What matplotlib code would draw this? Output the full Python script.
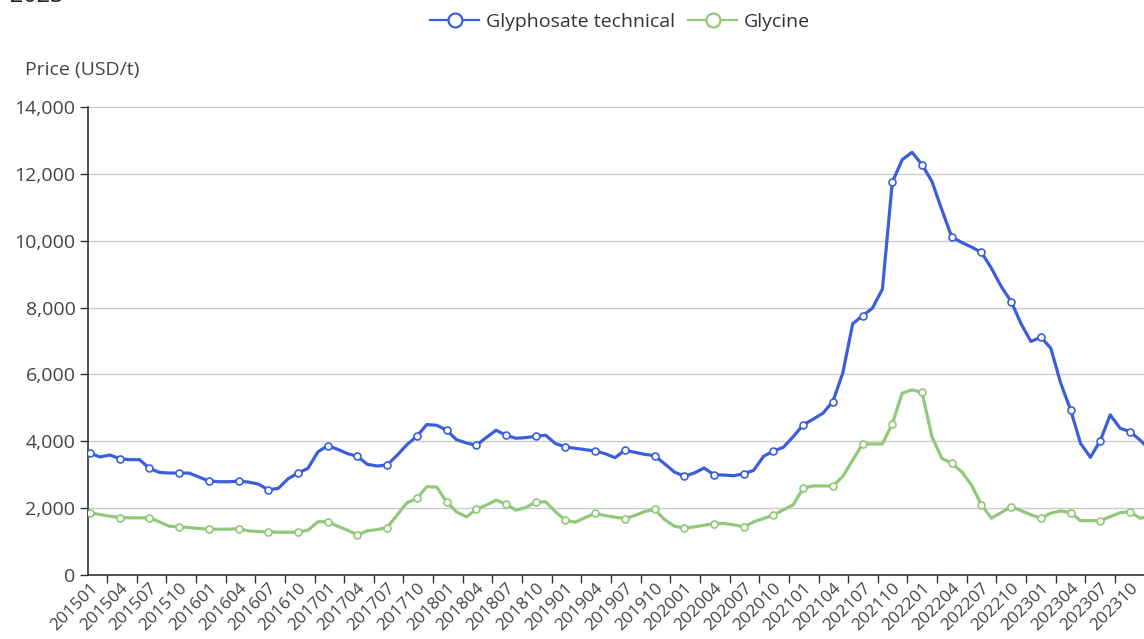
import matplotlib
matplotlib.use("Agg")
import matplotlib.pyplot as plt
from matplotlib.lines import Line2D

# ---------------- data ----------------
years = list(range(2015, 2024))
months = [f"{y}{m:02d}" for y in years for m in range(1, 13)]  # 201501 .. 202312

glyphosate = [
    3650, 3530, 3590, 3480, 3450, 3450, 3190, 3070, 3050, 3050, 3050, 2930,   # 2015
    2815, 2790, 2790, 2805, 2780, 2720, 2550, 2590, 2880, 3050, 3190, 3680,   # 2016
    3870, 3760, 3630, 3550, 3310, 3260, 3290, 3580, 3900, 4150, 4500, 4480,   # 2017
    4330, 4050, 3950, 3880, 4110, 4330, 4180, 4090, 4110, 4150, 4180, 3930,   # 2018
    3830, 3790, 3750, 3710, 3630, 3510, 3730, 3670, 3610, 3570, 3330, 3080,   # 2019
    2955, 3050, 3200, 3000, 2990, 2970, 3030, 3130, 3550, 3710, 3820, 4140,   # 2020
    4490, 4660, 4840, 5190, 6040, 7515, 7755, 7985, 8550, 11750, 12425, 12645,  # 2021
    12275, 11775, 10930, 10110, 9950, 9810, 9650, 9180, 8630, 8180, 7515, 6985,  # 2022
    7115, 6785, 5740, 4940, 3940, 3520, 4020, 4790, 4390, 4290, 4040, 3750,   # 2023
]

glycine = [
    1860, 1810, 1760, 1720, 1710, 1710, 1710, 1590, 1460, 1440, 1420, 1390,   # 2015
    1370, 1370, 1370, 1390, 1320, 1300, 1290, 1280, 1280, 1280, 1340, 1590,   # 2016
    1600, 1460, 1340, 1200, 1320, 1360, 1420, 1790, 2160, 2290, 2640, 2630,   # 2017
    2190, 1890, 1740, 1960, 2090, 2240, 2120, 1940, 2020, 2180, 2190, 1890,   # 2018
    1640, 1580, 1720, 1840, 1780, 1730, 1690, 1780, 1900, 1960, 1660, 1460,   # 2019
    1400, 1440, 1490, 1540, 1540, 1500, 1440, 1590, 1690, 1790, 1950, 2100,   # 2020
    2595, 2665, 2665, 2665, 2945, 3440, 3920, 3920, 3920, 4520, 5440, 5540,   # 2021
    5460, 4140, 3490, 3340, 3090, 2690, 2100, 1700, 1870, 2045, 1925, 1800,   # 2022
    1700, 1850, 1915, 1865, 1625, 1625, 1625, 1745, 1865, 1895, 1700, 1750,   # 2023
]

series_names = ["Glyphosate technical", "Glycine"]
y_ticks = [0, 2000, 4000, 6000, 8000, 10000, 12000, 14000]
y_label = "Price (USD/t)"

# ---------------- style ----------------
FONT = ["Open Sans", "DejaVu Sans"]
plt.rcParams["font.family"] = FONT
BLUE = "#3b5fdc"
GREEN = "#91c97a"
TXT = "#444444"
FS = 14

W, H = 1144, 639
fig = plt.figure(figsize=(W / 100, H / 100), dpi=100)

x0_px, x1_px = 88, 1144
ytop_px, ybot_px = 107, 575
ax = fig.add_axes([x0_px / W, 1 - ybot_px / H, (x1_px - x0_px) / W, (ybot_px - ytop_px) / H])

px_per_month = 9.905
first_px = 90
xs = list(range(len(months)))
ax.set_xlim((x0_px - first_px) / px_per_month, (x1_px - first_px) / px_per_month)
ax.set_ylim(0, 14000)

for vals, col in ((glyphosate, BLUE), (glycine, GREEN)):
    ax.plot(xs, vals, color=col, lw=2.3, solid_joinstyle="round", zorder=3,
            marker="o", markevery=3, markersize=5, markerfacecolor="white",
            markeredgecolor=col, markeredgewidth=1.2)

# grid & spines
ax.set_yticks(y_ticks)
ax.set_yticklabels([f"{v:,}" for v in y_ticks])
ax.yaxis.grid(True, color="#cccccc", lw=1)
ax.set_axisbelow(True)
for s in ("top", "right"):
    ax.spines[s].set_visible(False)
for s in ("left", "bottom"):
    ax.spines[s].set_color("#333333")
    ax.spines[s].set_linewidth(1.2)
ax.tick_params(axis="y", length=6, width=1, color="#333333", labelsize=FS,
               labelcolor=TXT, pad=3)

# x labels every 3 months
lab_idx = list(range(0, len(months), 3))
ax.set_xticks(lab_idx)
ax.set_xticklabels([months[i] for i in lab_idx], rotation=45, ha="right",
                   va="top", rotation_mode="anchor", fontsize=12.5, color=TXT)
ax.tick_params(axis="x", which="major", length=0, pad=4)
tick_pos = [1.72 + 2.993 * k for k in range(35)]
ax.set_xticks(tick_pos, minor=True)
ax.tick_params(axis="x", which="minor", length=6, width=1, color="#333333")

# axis name
fig.text(25 / W, 1 - 70 / H, y_label, fontsize=FS, color=TXT, ha="left", va="center")

# cut title fragment at the top-left
fig.text(-6 / W, 1 + 4 / H, "r 2023", fontsize=17, color="#222222", ha="left", va="center")

# legend
handles = [Line2D([0], [0], color=c, lw=1.6, marker="o", markersize=10,
                  markerfacecolor="white", markeredgecolor=c, markeredgewidth=1.6)
           for c in (BLUE, GREEN)]
fig.legend(handles, series_names, loc="center", bbox_to_anchor=(620 / W, 1 - 22 / H),
           ncol=2, frameon=False, fontsize=FS, handlelength=2.5, handletextpad=0.35,
           columnspacing=0.7, labelcolor="#333333")

fig.savefig("out.png", dpi=100)
